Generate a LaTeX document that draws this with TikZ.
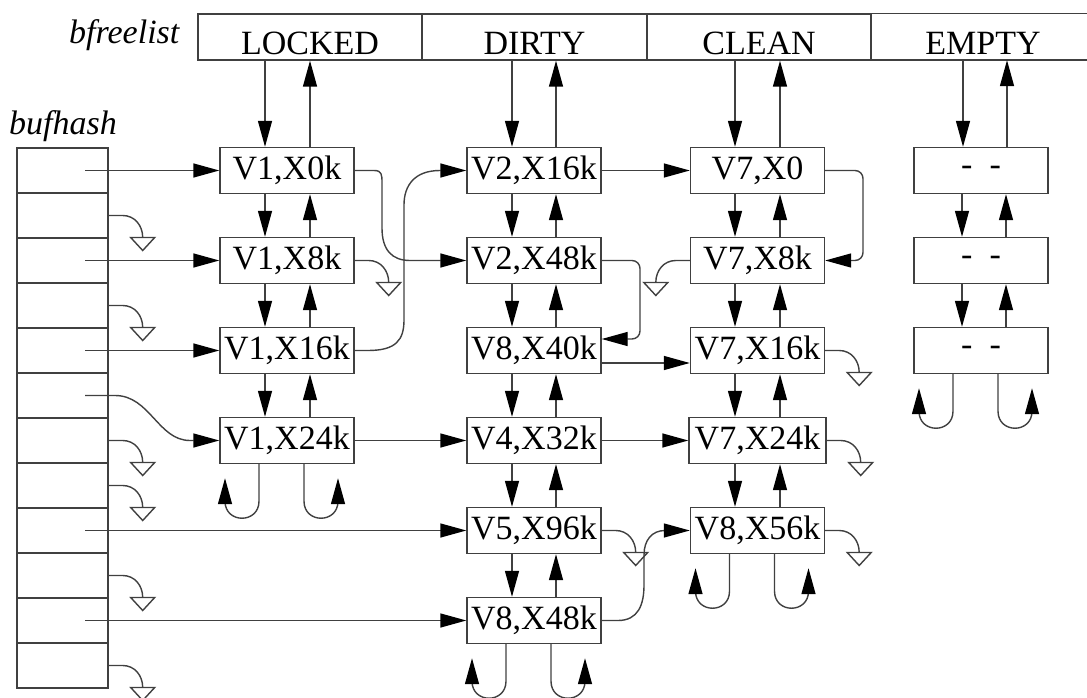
\documentclass[tikz,border=0pt]{standalone}
\usepackage{fontspec}
\setmainfont{Liberation Serif}
\usetikzlibrary{arrows.meta}
\newcommand\vlink[4]{%
  \draw[arr] ([xshift=#3]#1.south) -- ([xshift=#3]#2.north);
  \draw[arr] ([xshift=#4]#2.north) -- ([xshift=#4]#1.south);}
\newcommand\toplink[4]{%
  \path ([xshift=#3]#2.north) coordinate (tmpd) ([xshift=#4]#2.north) coordinate (tmpu);
  \draw[arr] (tmpd |- #1.south) -- (tmpd);
  \draw[arr] (tmpu) -- (tmpu |- #1.south);}
\newcommand\tailloops[1]{%
  \draw[arr] ([xshift=-28pt]#1.south) -- ++(0,37) .. controls +(0,22.7) and +(0,22.7) .. ++(-34,0) -- ++(0,-23);
  \draw[arr] ([xshift=17pt]#1.south) -- ++(0,37) .. controls +(0,22.7) and +(0,22.7) .. ++(34,0) -- ++(0,-23);}
\begin{document}
\begin{tikzpicture}[x=1pt,y=-1pt,
  ln/.style={draw=black!75,line width=1.4pt},
  arr/.style={ln,-{Triangle[length=26pt,width=14pt,black]}},
  buf/.style={ln,fill=white,minimum width=134pt,minimum height=46pt,inner sep=0pt,font=\fontsize{34}{40}\selectfont},
  cell/.style={ln,minimum width=91pt,minimum height=45pt,inner sep=0pt},
  lcell/.style={minimum width=224pt,minimum height=46pt,inner sep=0pt,text height=41pt,text depth=5pt,font=\fontsize{34}{40}\selectfont},
  lbl/.style={font=\fontsize{34}{40}\selectfont\itshape,inner sep=0pt},
  nullp/.pic={\draw[ln] (0,0) -- (14,0) .. controls (26,0) and (34,10) .. (34,22);
              \draw[ln] (22,22) -- (46,22) -- (34,35) -- cycle;}
]
\useasboundingbox (0,0) rectangle (1087,698);
\coordinate (R) at (1087,0);

% labels
\node[lbl,anchor=base west] (bfl) at (69,44) {bfreelist};
\node[lbl,anchor=base west] (bfh) at (9,135) {bufhash};

% bfreelist
\node[lcell,ln] (L1) at (310,37) {LOCKED};
\node[lcell,ln] (L2) at (534.5,37) {DIRTY};
\node[lcell,ln] (L3) at (759,37) {CLEAN};
\node[lcell] (L4) at (983,37) {EMPTY};
\draw[ln] (L4.north west -| R) -- (L4.north west) -- (L4.south west) -- (L4.south west -| R);

% bufhash cells
\foreach \i in {0,...,11}{
  \node[cell] (h\i) at (62.5,{170.5+45*\i}) {};
}

% buffers
\node[buf] (a1) at (287,170.5) {V1,X0k};
\node[buf] (a2) at (287,260.5) {V1,X8k};
\node[buf] (a3) at (287,350.5) {V1,X16k};
\node[buf] (a4) at (287,440.5) {V1,X24k};

\node[buf] (b1) at (534,170.5) {V2,X16k};
\node[buf] (b2) at (534,260.5) {V2,X48k};
\node[buf] (b3) at (534,350.5) {V8,X40k};
\node[buf] (b4) at (534,440.5) {V4,X32k};
\node[buf] (b5) at (534,530.5) {V5,X96k};
\node[buf] (b6) at (534,620.5) {V8,X48k};

\node[buf] (c1) at (757.5,170.5) {V7,X0};
\node[buf] (c2) at (757.5,260.5) {V7,X8k};
\node[buf] (c3) at (757.5,350.5) {V7,X16k};
\node[buf,minimum width=137pt] (c4) at (757.5,440.5) {V7,X24k};
\node[buf] (c5) at (757.5,530.5) {V8,X56k};

\node[buf] (d1) at (981,170.5) {-\ \ -};
\node[buf] (d2) at (981,260.5) {-\ \ -};
\node[buf] (d3) at (981,350.5) {-\ \ -};

% free list links
\toplink{L1}{a1}{-22pt}{23pt}
\vlink{a1}{a2}{-22pt}{23pt}
\vlink{a2}{a3}{-22pt}{23pt}
\vlink{a3}{a4}{-22pt}{23pt}
\tailloops{a4}

\toplink{L2}{b1}{-22pt}{22pt}
\vlink{b1}{b2}{-22pt}{22pt}
\vlink{b2}{b3}{-22pt}{22pt}
\vlink{b3}{b4}{-22pt}{22pt}
\vlink{b4}{b5}{-22pt}{22pt}
\vlink{b5}{b6}{-22pt}{22pt}
\tailloops{b6}

\toplink{L3}{c1}{-22.5pt}{22.5pt}
\vlink{c1}{c2}{-22.5pt}{22.5pt}
\vlink{c2}{c3}{-22.5pt}{22.5pt}
\vlink{c3}{c4}{-22.5pt}{22.5pt}
\vlink{c4}{c5}{-22.5pt}{22.5pt}
\tailloops{c5}

\toplink{L4}{d1}{-18pt}{26pt}
\vlink{d1}{d2}{-19pt}{25pt}
\vlink{d2}{d3}{-19pt}{25pt}
\tailloops{d3}

% hash links
\foreach \i in {0,2,4,5,8,10}{
  \coordinate (hs\i) at ([xshift=22.5pt]h\i.center);
}
\draw[arr] (hs0) -- (a1.west);
\draw[arr] (hs2) -- (a2.west);
\draw[arr] (hs4) -- (a3.west);
\draw[arr] (hs5) -- (115,395.5) .. controls (150,395.5) and (158,440.5) .. (190,440.5) -- (a4.west);
\draw[arr] (hs8) -- (b5.west);
\draw[arr] (hs10) -- (b6.west);
\foreach \i in {1,3,6,7,9,11}{
  \pic at (h\i.east) {nullp};
}

% hash chains
\draw[arr] (a1.east) -- (374,170.5) .. controls (382,170.5) and (382,175) .. (382,183) -- (382,228)
  .. controls (382,250) and (392,260.5) .. (410,260.5) -- (b2.west);
\pic at (a2.east) {nullp};
\draw[arr] (a3.east) -- (368,350.5) .. controls (396,350.5) and (404,340) .. (404,320) -- (404,205)
  .. controls (404,185) and (415,170.5) .. (440,170.5) -- (b1.west);
\draw[arr] (a4.east) -- (b4.west);

\draw[arr] (b1.east) -- (c1.west);
\draw[arr,rounded corners=8pt] (b2.east) -- (640,260.5) -- (640,339) -- ([yshift=11.5pt]b3.east);
\draw[arr] ([yshift=-12.5pt]b3.east) -- ([yshift=-12.5pt]c3.west);
\draw[arr] (b4.east) -- (c4.west);
\pic at (b5.east) {nullp};
\draw[arr] (b6.east) -- (618,620.5) .. controls (638,620.5) and (644,605) .. (644,585) -- (644,555)
  .. controls (644,540) and (652,530.5) .. (665,530.5) -- (c5.west);

\draw[arr,rounded corners=8pt] (c1.east) -- (863,170.5) -- (863,260.5) -- (c2.east);
\pic[xscale=-1] at (c2.west) {nullp};
\pic at (c3.east) {nullp};
\pic at (c4.east) {nullp};
\pic at (c5.east) {nullp};
\end{tikzpicture}
\end{document}
